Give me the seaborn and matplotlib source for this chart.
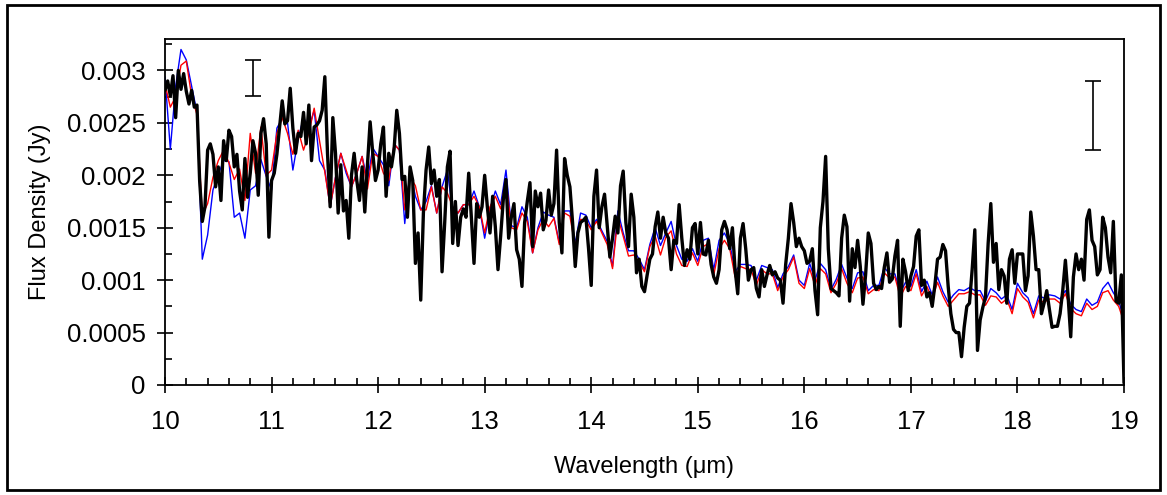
import numpy as np
import pandas as pd
import matplotlib
matplotlib.use("Agg")
import matplotlib.pyplot as plt
import seaborn as sns
from matplotlib.ticker import MultipleLocator, FuncFormatter
from matplotlib.patches import Rectangle

# flux densities, in mJy
# black spectrum: 10.0 .. 19.0 um, one value every 0.025 um
black_step = 0.025
black_mjy = [
    # 10.0 - 11.5
    2.81, 2.90, 2.76, 2.95, 2.55, 3.00, 2.82, 2.97, 2.80, 2.68,
    2.81, 2.65, 2.67, 1.95, 1.56, 1.70, 2.24, 2.30, 2.20, 1.89,
    2.08, 1.76, 2.33, 2.14, 2.43, 2.37, 2.08, 2.20, 1.85, 1.67,
    2.16, 1.79, 2.02, 2.33, 2.21, 1.81, 2.40, 2.54, 2.30, 1.41,
    1.95, 2.02, 2.20, 2.45, 2.71, 2.49, 2.52, 2.83, 2.45, 2.21,
    2.40, 2.37, 2.60, 2.30, 2.67, 2.14, 2.46, 2.48, 2.52, 2.62,
    2.94,
    # 11.5 - 13.0
    2.21, 1.70, 2.55, 2.21, 1.64, 2.10, 1.66, 1.76, 1.40, 2.00,
    2.21, 1.95, 1.76, 2.08, 1.65, 2.10, 2.51, 2.21, 1.95, 2.05,
    2.30, 2.46, 1.80, 2.21, 2.08, 2.25, 2.62, 2.40, 1.96, 1.99,
    1.60, 2.08, 1.95, 1.16, 1.45, 0.81, 1.64, 2.05, 2.27, 1.92,
    2.05, 1.80, 1.96, 1.08, 1.55, 2.08, 2.23, 1.35, 1.75, 1.33,
    1.60, 1.68, 1.60, 2.02, 1.60, 1.16, 1.73, 1.60, 1.70, 2.00,
    # 13.0 - 14.5
    1.70, 1.45, 1.80, 1.51, 1.10, 1.42, 1.77, 1.96, 1.40, 1.60,
    1.73, 1.29, 1.20, 0.94, 1.55, 1.75, 1.93, 1.32, 1.85, 1.70,
    1.83, 1.48, 1.57, 1.86, 1.62, 1.73, 2.24, 1.55, 1.26, 2.16,
    2.00, 1.89, 1.55, 1.13, 1.45, 1.55, 1.57, 1.60, 1.30, 0.95,
    1.80, 2.05, 1.50, 1.70, 1.82, 1.52, 1.22, 1.40, 1.61, 1.45,
    1.90, 2.04, 1.55, 1.32, 1.82, 1.60, 1.07, 1.20, 0.94, 0.89,
    # 14.5 - 16.0
    1.05, 1.20, 1.25, 1.51, 1.65, 1.40, 1.60, 1.45, 1.40, 1.10,
    1.38, 1.35, 1.72, 1.40, 1.14, 1.29, 1.20, 1.50, 1.54, 1.25,
    1.55, 1.25, 1.24, 1.38, 1.15, 1.03, 0.97, 1.10, 1.48, 1.56,
    1.48, 1.30, 1.50, 1.10, 0.87, 1.40, 1.54, 1.30, 1.00, 1.10,
    1.12, 0.92, 0.84, 1.10, 0.94, 1.05, 1.14, 1.05, 1.08, 1.02,
    1.00, 0.78, 1.15, 1.40, 1.73, 1.55, 1.32, 1.40, 1.32, 1.28,
    # 16.0 - 17.5
    1.16, 1.18, 1.30, 0.90, 0.67, 1.50, 1.75, 2.18, 1.30, 0.92,
    0.90, 0.88, 0.85, 1.40, 1.62, 1.51, 0.80, 1.30, 1.12, 1.38,
    1.13, 0.77, 1.05, 1.45, 1.35, 0.97, 0.91, 0.94, 0.92, 1.12,
    1.26, 0.98, 1.01, 1.23, 1.38, 0.56, 1.20, 1.08, 0.90, 1.04,
    1.13, 1.42, 1.48, 0.95, 1.00, 0.84, 0.88, 0.75, 0.95, 1.20,
    1.22, 1.34, 1.28, 0.94, 0.68, 0.53, 0.50, 0.50, 0.27, 0.55,
    # 17.5 - 19.0
    0.75, 0.78, 1.10, 1.48, 0.33, 0.62, 0.74, 0.84, 1.35, 1.73,
    1.17, 1.35, 0.91, 1.10, 1.04, 0.78, 1.20, 1.29, 0.97, 1.25,
    1.25, 1.25, 0.90, 1.04, 1.65, 1.42, 1.10, 1.10, 0.68, 0.78,
    0.90, 0.72, 0.55, 0.56, 0.56, 0.68, 0.90, 1.19, 0.85, 0.46,
    1.03, 1.25, 1.10, 1.20, 1.00, 1.58, 1.67, 1.38, 1.32, 1.05,
    1.10, 1.60, 1.50, 1.22, 1.07, 1.56, 0.80, 0.78, 1.05, 0.02,
]

# red and blue models: 10.0 .. 19.0 um, one value every 0.05 um
model_step = 0.05
red_mjy = [
    2.87, 2.65, 2.75, 3.05, 3.09, 2.75, 2.58, 1.62, 1.73, 1.98,
    2.14, 2.24, 2.12, 1.96, 2.06, 1.76, 2.40, 2.02, 2.46, 2.00,
    2.05, 2.40, 2.55, 2.40, 2.20, 2.43, 2.24, 2.40, 2.64, 2.33,
    2.03,
    1.70, 1.98, 2.21, 2.05, 1.89, 2.02, 2.18, 1.87, 2.21, 2.18,
    2.02, 1.95, 2.30, 2.24, 1.67, 1.99, 1.90, 1.67, 1.67, 1.89,
    1.64, 1.89, 1.83, 1.70, 1.64, 1.72, 1.72, 1.80, 1.70, 1.45,
    1.70, 1.80, 1.68, 1.95, 1.50, 1.48, 1.64, 1.56, 1.26, 1.48,
    1.58, 1.51, 1.59, 1.34, 1.64, 1.61, 1.32, 1.58, 1.57, 1.48,
    1.56, 1.45, 1.34, 1.11, 1.60, 1.42, 1.23, 1.24, 1.17, 1.08,
    1.32, 1.42, 1.24, 1.41, 1.47, 1.25, 1.14, 1.13, 1.26, 1.14,
    1.32, 1.35, 1.05, 1.30, 1.38, 1.30, 1.03, 1.13, 1.11, 1.10,
    0.95, 1.10, 1.06, 1.06, 0.90, 1.03, 1.10, 1.22, 0.97, 0.92,
    1.11, 0.95, 1.11, 1.06, 0.88, 0.97, 1.11, 0.97, 0.88, 1.02,
    1.03, 0.87, 0.91, 0.90, 1.07, 1.02, 1.03, 0.84, 0.94, 0.90,
    1.06, 0.85, 0.94, 0.82, 0.98, 0.85, 0.75, 0.81, 0.87, 0.87,
    0.89, 0.86, 0.86, 0.76, 0.85, 0.84, 0.78, 0.82, 0.68, 0.92,
    0.84, 0.79, 0.64, 0.81, 0.79, 0.82, 0.82, 0.78, 0.87, 0.73,
    0.68, 0.66, 0.78, 0.72, 0.75, 0.88, 0.90, 0.81, 0.75, 0.60,
]
blue_mjy = [
    2.94, 2.25, 2.85, 3.20, 3.10, 2.85, 2.60, 1.20, 1.43, 1.86,
    2.01, 2.14, 2.13, 1.60, 1.64, 1.40, 1.86, 1.90, 2.15, 1.99,
    1.86, 2.45, 2.54, 2.50, 2.05, 2.35, 2.55, 2.45, 2.62, 2.14,
    2.05,
    1.70, 1.98, 2.21, 2.02, 1.89, 2.02, 2.18, 1.95, 2.26, 2.18,
    2.10, 1.90, 2.30, 2.24, 1.54, 2.05, 1.80, 1.67, 1.75, 1.90,
    1.64, 1.89, 2.05, 1.65, 1.64, 1.72, 1.72, 1.85, 1.70, 1.40,
    1.68, 1.85, 1.72, 2.05, 1.52, 1.50, 1.70, 1.60, 1.26, 1.50,
    1.65, 1.62, 1.60, 1.36, 1.66, 1.66, 1.35, 1.64, 1.62, 1.50,
    1.58, 1.47, 1.37, 1.13, 1.66, 1.45, 1.28, 1.28, 1.20, 1.10,
    1.34, 1.50, 1.33, 1.45, 1.56, 1.33, 1.20, 1.18, 1.30, 1.18,
    1.38, 1.40, 1.10, 1.38, 1.45, 1.35, 1.08, 1.15, 1.15, 1.14,
    1.00, 1.14, 1.12, 1.10, 0.93, 1.06, 1.13, 1.24, 1.00, 0.95,
    1.16, 1.00, 1.16, 1.10, 0.91, 1.01, 1.15, 1.02, 0.92, 1.07,
    1.08, 0.90, 0.95, 0.95, 1.12, 1.06, 1.06, 0.88, 0.98, 0.94,
    1.10, 0.89, 0.99, 0.86, 1.03, 0.89, 0.79, 0.86, 0.91, 0.90,
    0.93, 0.90, 0.90, 0.80, 0.92, 0.88, 0.82, 0.86, 0.72, 0.97,
    0.88, 0.83, 0.68, 0.85, 0.83, 0.86, 0.85, 0.82, 0.90, 0.77,
    0.72, 0.70, 0.82, 0.76, 0.79, 0.92, 0.98, 0.88, 0.80, 0.63,
]

# the two error bars (x in um, low/high in mJy)
err_x = [10.83, 18.71]
err_lo = [2.76, 2.24]
err_hi = [3.10, 2.90]

# building the data frames (Jy)
black_df = pd.DataFrame({"wl": 10 + black_step * np.arange(len(black_mjy)),
                         "flux": np.array(black_mjy) / 1000})
red_df = pd.DataFrame({"wl": 10 + model_step * np.arange(len(red_mjy)),
                       "flux": np.array(red_mjy) / 1000})
blue_df = pd.DataFrame({"wl": 10 + model_step * np.arange(len(blue_mjy)),
                        "flux": np.array(blue_mjy) / 1000})

sns.set_style("ticks")
plt.rcParams["font.family"] = ["Liberation Sans", "DejaVu Sans"]
plt.rcParams["text.color"] = "black"
plt.rcParams["axes.labelcolor"] = "black"

fig = plt.figure(figsize=(11.67, 4.95), dpi=100)
ax = fig.add_axes([165 / 1167, 1 - 385 / 495, (1124 - 165) / 1167, (385 - 39) / 495])

sns.lineplot(data=blue_df, x="wl", y="flux", color="#0000ff", lw=1.0, ax=ax)
sns.lineplot(data=red_df, x="wl", y="flux", color="#ff0000", lw=1.0, ax=ax)
sns.lineplot(data=black_df, x="wl", y="flux", color="black", lw=2.4, ax=ax)

# error bars
mid = (np.array(err_lo) + np.array(err_hi)) / 2 / 1000
half = (np.array(err_hi) - np.array(err_lo)) / 2 / 1000
ax.errorbar(err_x, mid, yerr=half, fmt="none", ecolor="black",
            elinewidth=1.2, capsize=6, capthick=1.2)

ax.set_xlim(10, 19)
ax.set_ylim(0, 0.0033)
ax.xaxis.set_major_locator(MultipleLocator(1))
ax.xaxis.set_minor_locator(MultipleLocator(0.2))
ax.yaxis.set_major_locator(MultipleLocator(0.0005))
ax.yaxis.set_minor_locator(MultipleLocator(0.00025))
ax.yaxis.set_major_formatter(FuncFormatter(lambda v, p: "%g" % round(v, 6)))

ax.tick_params(which="major", direction="inout", length=12, width=1.2,
               labelsize=18.5, color="black", labelcolor="black")
ax.tick_params(which="minor", direction="in", length=5, width=1.2, color="black")
ax.tick_params(axis="x", which="major", pad=12)
ax.tick_params(axis="y", which="major", pad=8)

for s in ax.spines.values():
    s.set_linewidth(1.3)
    s.set_color("black")

ax.set_xlabel("Wavelength (\u03bcm)", fontsize=17, labelpad=16)
ax.set_ylabel("Flux Density (Jy)", fontsize=17, labelpad=11)

# frame around the whole picture
fig.patches.append(Rectangle((7 / 1167, 5 / 495), (1160 - 7) / 1167, (490 - 5) / 495,
                             transform=fig.transFigure, fill=False, lw=2, ec="black"))

fig.savefig("out.png", dpi=100)
